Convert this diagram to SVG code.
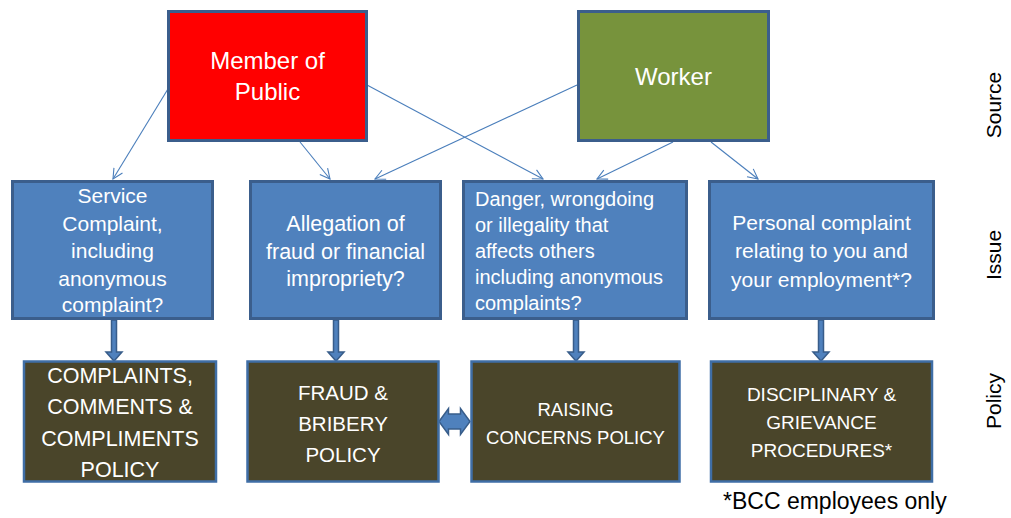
<svg xmlns="http://www.w3.org/2000/svg" width="1011" height="518" viewBox="0 0 1011 518">
<style>
text{font-family:"Liberation Sans",Arial,sans-serif;}
.src{stroke:#3B5E8C;stroke-width:3;}
.iss{fill:#4F81BD;stroke:#3B5E8C;stroke-width:3;}
.pol{fill:#4A452A;stroke:#3F6EA6;stroke-width:2.5;}
.wt{fill:#FFFFFF;}
.c{text-anchor:middle;}
.thin{stroke:#4A7EBB;stroke-width:1.1;fill:none;marker-end:url(#ah);}
.blk{fill:#4F81BD;stroke:#385D8A;stroke-width:1.5;}
.lbl{fill:#000;font-size:21px;text-anchor:middle;}
</style>
<defs>
<marker id="ah" viewBox="0 0 12 12" refX="11" refY="6" markerWidth="12" markerHeight="12" markerUnits="userSpaceOnUse" orient="auto">
<path d="M1,1 L11,6 L1,11" fill="none" stroke="#4A7EBB" stroke-width="1.1"/>
</marker>
</defs>
<rect width="1011" height="518" fill="#FFFFFF"/>

<g id="connectors">
<line class="thin" x1="171" y1="84" x2="113" y2="179"/>
<line class="thin" x1="300" y1="142" x2="330" y2="179"/>
<line class="thin" x1="367" y1="85" x2="543" y2="179"/>
<line class="thin" x1="577" y1="85" x2="375" y2="179"/>
<line class="thin" x1="673" y1="142" x2="597" y2="179"/>
<line class="thin" x1="711" y1="142" x2="758" y2="179"/>
<path class="blk" d="M111.5,320 L116.5,320 L116.5,352 L122,352 L114,361 L106,352 L111.5,352 Z"/>
<path class="blk" d="M333.5,320 L338.5,320 L338.5,352 L344,352 L336,361 L328,352 L333.5,352 Z"/>
<path class="blk" d="M573.5,320 L578.5,320 L578.5,352 L584,352 L576,361 L568,352 L573.5,352 Z"/>
<path class="blk" d="M818.5,320 L823.5,320 L823.5,352 L829,352 L821,361 L813,352 L818.5,352 Z"/>
<path class="blk" d="M439,421.5 L448.5,408.5 L448.5,414 L460.5,414 L460.5,408.5 L470,421.5 L460.5,434.5 L460.5,429 L448.5,429 L448.5,434.5 Z"/>
</g>

<g id="member-of-public">
<rect class="src" x="168.5" y="11.5" width="198" height="129" fill="#FF0000"/>
<text class="wt c" x="267.5" y="69" font-size="24">Member of</text>
<text class="wt c" x="267.5" y="100" font-size="24">Public</text>
</g>
<g id="worker">
<rect class="src" x="578.5" y="11.5" width="190" height="129" fill="#77933C"/>
<text class="wt c" x="673.5" y="85" font-size="24">Worker</text>
</g>

<g id="service-complaint">
<rect class="iss" x="12.5" y="181.5" width="200" height="137"/>
<text class="wt c" font-size="21" x="112.5"><tspan x="112.5" y="203">Service</tspan><tspan x="112.5" y="230.5">Complaint,</tspan><tspan x="112.5" y="258">including</tspan><tspan x="112.5" y="285.5">anonymous</tspan><tspan x="112.5" y="312">complaint?</tspan></text>
</g>
<g id="allegation-fraud">
<rect class="iss" x="250.5" y="181.5" width="190" height="137"/>
<text class="wt c" font-size="21.5" x="345.5"><tspan x="345.5" y="231">Allegation of</tspan><tspan x="345.5" y="258.5">fraud or financial</tspan><tspan x="345.5" y="286">impropriety?</tspan></text>
</g>
<g id="danger-wrongdoing">
<rect class="iss" x="463.5" y="181.5" width="223" height="137"/>
<text class="wt" font-size="20" x="475"><tspan x="475" y="206">Danger, wrongdoing</tspan><tspan x="475" y="232">or illegality that</tspan><tspan x="475" y="258">affects others</tspan><tspan x="475" y="284">including anonymous</tspan><tspan x="475" y="310">complaints?</tspan></text>
</g>
<g id="personal-complaint">
<rect class="iss" x="709.5" y="181.5" width="224" height="137"/>
<text class="wt c" font-size="21" x="821.5"><tspan x="821.5" y="230">Personal complaint</tspan><tspan x="821.5" y="258">relating to you and</tspan><tspan x="821.5" y="287">your employment*?</tspan></text>
</g>

<g id="complaints-policy">
<rect class="pol" x="24" y="361.5" width="192" height="120"/>
<text class="wt c" font-size="21.5" x="120"><tspan x="120" y="383">COMPLAINTS,</tspan><tspan x="120" y="414">COMMENTS &amp;</tspan><tspan x="120" y="446">COMPLIMENTS</tspan><tspan x="120" y="477">POLICY</tspan></text>
</g>
<g id="fraud-bribery-policy">
<rect class="pol" x="247.5" y="361.5" width="191" height="120"/>
<text class="wt c" font-size="20.5" x="343"><tspan x="343" y="400">FRAUD &amp;</tspan><tspan x="343" y="431">BRIBERY</tspan><tspan x="343" y="462">POLICY</tspan></text>
</g>
<g id="raising-concerns-policy">
<rect class="pol" x="471.5" y="361.5" width="208" height="120"/>
<text class="wt c" font-size="18.5" x="575.5"><tspan x="575.5" y="416">RAISING</tspan><tspan x="575.5" y="444">CONCERNS POLICY</tspan></text>
</g>
<g id="disciplinary-grievance">
<rect class="pol" x="711" y="361.5" width="221" height="120"/>
<text class="wt c" font-size="19" x="821.5"><tspan x="821.5" y="401">DISCIPLINARY &amp;</tspan><tspan x="821.5" y="429">GRIEVANCE</tspan><tspan x="821.5" y="457">PROCEDURES*</tspan></text>
</g>

<g id="labels">
<text class="lbl" transform="translate(1001,105) rotate(-90)">Source</text>
<text class="lbl" transform="translate(1001,255) rotate(-90)">Issue</text>
<text class="lbl" transform="translate(1001,401) rotate(-90)">Policy</text>
<text x="723" y="509" font-size="23" fill="#000">*BCC employees only</text>
</g>
</svg>
